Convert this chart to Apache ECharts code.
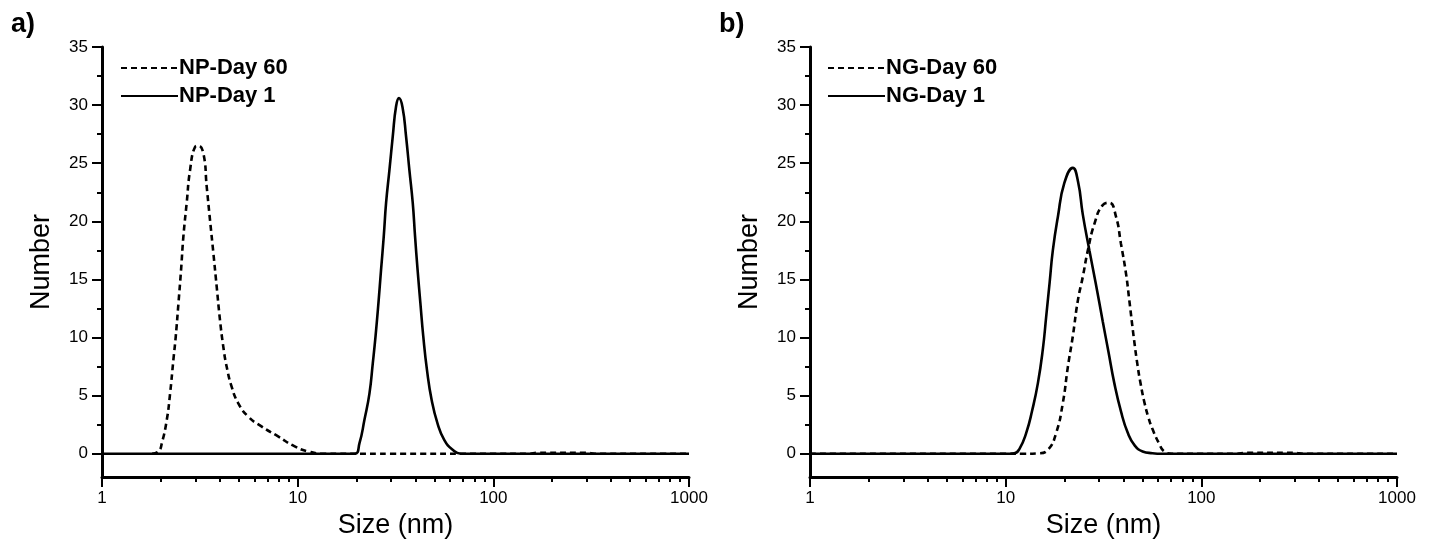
<!DOCTYPE html>
<html>
<head>
<meta charset="utf-8">
<script src="https://cdn.jsdelivr.net/npm/echarts@6/dist/echarts.min.js"></script>
<style>
html,body{margin:0;padding:0;background:#fff;}
#chart{width:1438px;height:550px;}
</style>
</head>
<body>
<div id="chart"></div>
<script>
// ---- Data (size in nm, number %) ----
const np60Sizes = [1.80, 1.945, 2.023, 2.143, 2.229, 2.317, 2.382, 2.460, 2.535, 2.606, 2.710, 2.818, 2.989, 3.108, 3.296, 3.428, 3.565, 3.707, 3.855, 4.009, 4.169, 4.335, 4.592, 4.966, 5.585, 6.531, 7.943, 9.661, 11.30, 13.74, 30, 100, 150, 170, 300, 330, 1000];
const np60Values = [0, 0.2, 0.92, 2.9, 5.2, 8.1, 10.1, 13.0, 15.8, 18.7, 21.6, 24.4, 26.4, 26.5, 25.85, 23.0, 20.1, 17.3, 14.4, 11.5, 9.2, 7.5, 5.8, 4.36, 3.2, 2.35, 1.49, 0.63, 0.2, 0, 0, 0, 0, 0.08, 0.08, 0, 0];

const np1Sizes = [1, 10, 19.50, 20.70, 21.93, 23.28, 24.21, 25.00, 25.88, 26.67, 27.54, 28.31, 29.44, 30.62, 31.84, 32.96, 34.36, 35.81, 37.24, 38.73, 39.81, 41.02, 42.36, 43.85, 45.81, 48.42, 51.88, 56.10, 61.94, 68.24, 100, 1000];
const np1Values = [0, 0, 0, 0.92, 2.9, 5.2, 7.8, 10.1, 13.0, 15.8, 18.7, 21.6, 24.4, 27.3, 29.9, 30.6, 29.8, 27.3, 24.4, 21.6, 18.7, 15.8, 13.0, 10.1, 7.2, 4.6, 2.6, 1.2, 0.34, 0, 0, 0];

const ng60Sizes = [1, 10, 12.50, 14.62, 16.44, 18.11, 19.59, 20.80, 22.03, 23.39, 24.77, 26.30, 28.44, 31.33, 33.88, 36.64, 38.81, 41.21, 42.85, 45.08, 47.21, 48.98, 51.05, 53.70, 56.36, 60.95, 64.57, 70.79, 100, 150, 170, 300, 330, 1000];
const ng60Values = [0, 0, 0, 0.03, 0.34, 1.78, 4.36, 7.5, 10.1, 13.2, 15.2, 17.5, 19.8, 21.4, 21.6, 20.4, 18.1, 15.5, 13.2, 10.1, 7.6, 6.0, 4.5, 3.1, 2.1, 0.85, 0.2, 0, 0, 0, 0.08, 0.08, 0, 0];

const ng1Sizes = [1, 10, 11.07, 11.75, 12.74, 13.65, 14.62, 15.49, 16.11, 16.79, 17.42, 18.49, 19.95, 22.03, 23.44, 24.78, 26.79, 28.84, 31.33, 33.50, 35.89, 38.90, 42.07, 45.71, 50.12, 56.23, 63.10, 100, 1000];
const ng1Values = [0, 0, 0.05, 0.4, 1.8, 3.7, 6.1, 9.0, 11.8, 14.8, 17.5, 20.4, 23.3, 24.6, 23.4, 20.6, 17.5, 14.7, 11.4, 8.8, 6.1, 3.6, 1.8, 0.7, 0.2, 0.05, 0, 0, 0];

const yMajorTicks = [0, 5, 10, 15, 20, 25, 30, 35];
const yMinorTicks = [2.5, 7.5, 12.5, 17.5, 22.5, 27.5, 32.5];
const xMinorTicks = [2, 3, 4, 5, 6, 7, 8, 9, 20, 30, 40, 50, 60, 70, 80, 90, 200, 300, 400, 500, 600, 700, 800, 900];
const panelLabels = ['a)', 'b)'];
const xTitle = 'Size (nm)';
const yTitle = 'Number';
const legendNames = [['NP-Day 60', 'NP-Day 1'], ['NG-Day 60', 'NG-Day 1']];

// ---- build ----
const pair = (xs, ys) => xs.map((x, i) => [x, ys[i]]);
const FONT = '"Liberation Sans", Arial, sans-serif';
const AX = '#000';

function grid(left) { return { left: left, top: 47, width: 587, height: 430 }; }

function xMain(gi) {
  return {
    type: 'log', logBase: 10, min: 1, max: 1000, gridIndex: gi, position: 'bottom',
    name: xTitle, nameLocation: 'middle', nameGap: 33,
    nameTextStyle: { fontFamily: FONT, fontSize: 27, color: '#000' },
    axisLine: { show: true, onZero: false, lineStyle: { color: AX, width: 3 } },
    axisTick: { show: true, inside: false, length: 10, lineStyle: { color: AX, width: 2 } },
    axisLabel: { fontFamily: FONT, fontSize: 17, color: '#000', margin: 13, formatter: v => String(v) },
    splitLine: { show: false }, minorTick: { show: false }
  };
}
function xMinor(gi) {
  return {
    type: 'log', logBase: 10, min: 1, max: 1000, gridIndex: gi, position: 'bottom',
    axisLine: { show: false, onZero: false },
    axisTick: { show: true, length: 5, customValues: xMinorTicks, lineStyle: { color: AX, width: 2 } },
    axisLabel: { show: false }, splitLine: { show: false }
  };
}
function yMain(gi) {
  return {
    type: 'value', min: -2, max: 35, gridIndex: gi, position: 'left',
    name: yTitle, nameLocation: 'middle', nameGap: 47,
    nameTextStyle: { fontFamily: FONT, fontSize: 27, color: '#000' },
    axisLine: { show: true, onZero: false, lineStyle: { color: AX, width: 3 } },
    axisTick: { show: true, length: 10, customValues: yMajorTicks, lineStyle: { color: AX, width: 2 } },
    axisLabel: { fontFamily: FONT, fontSize: 17, color: '#000', margin: 14, customValues: yMajorTicks },
    splitLine: { show: false }
  };
}
function yMinor(gi) {
  return {
    type: 'value', min: -2, max: 35, gridIndex: gi, position: 'left',
    axisLine: { show: false, onZero: false },
    axisTick: { show: true, length: 5, customValues: yMinorTicks, lineStyle: { color: AX, width: 2 } },
    axisLabel: { show: false }, splitLine: { show: false }
  };
}
function line(name, data, xi, yi, dashed) {
  return {
    name: name, type: 'line', data: data, xAxisIndex: xi, yAxisIndex: yi,
    symbol: 'none', smooth: 0.5, silent: true,
    lineStyle: { color: '#000', width: 2.6, type: dashed ? [6, 4] : 'solid' },
    itemStyle: { color: '#000' }, z: dashed ? 3 : 4
  };
}
function legend(left, names) {
  return {
    data: names, left: left, top: 57, padding: 0, orient: 'vertical', itemWidth: 57, itemHeight: 14,
    itemGap: 6, selectedMode: false,
    itemStyle: { opacity: 0 },
    textStyle: { fontFamily: FONT, fontSize: 22, fontWeight: 'bold', color: '#000', padding: [0, 0, 0, -4] }
  };
}

const option = {
  animation: false,
  backgroundColor: '#fff',
  grid: [grid(102), grid(810)],
  xAxis: [xMain(0), xMinor(0), xMain(1), xMinor(1)],
  yAxis: [yMain(0), yMinor(0), yMain(1), yMinor(1)],
  legend: [legend(120, legendNames[0]), legend(827, legendNames[1])],
  title: [
    { text: panelLabels[0], left: 6, top: 6, textStyle: { fontFamily: FONT, fontSize: 27, fontWeight: 'bold', color: '#000' } },
    { text: panelLabels[1], left: 714, top: 6, textStyle: { fontFamily: FONT, fontSize: 27, fontWeight: 'bold', color: '#000' } }
  ],
  series: [
    line(legendNames[0][0], pair(np60Sizes, np60Values), 0, 0, true),
    line(legendNames[0][1], pair(np1Sizes, np1Values), 0, 0, false),
    line(legendNames[1][0], pair(ng60Sizes, ng60Values), 2, 2, true),
    line(legendNames[1][1], pair(ng1Sizes, ng1Values), 2, 2, false)
  ]
};
const chart = echarts.init(document.getElementById('chart'), null, { renderer: 'canvas' });
chart.setOption(option);
</script>
</body>
</html>
